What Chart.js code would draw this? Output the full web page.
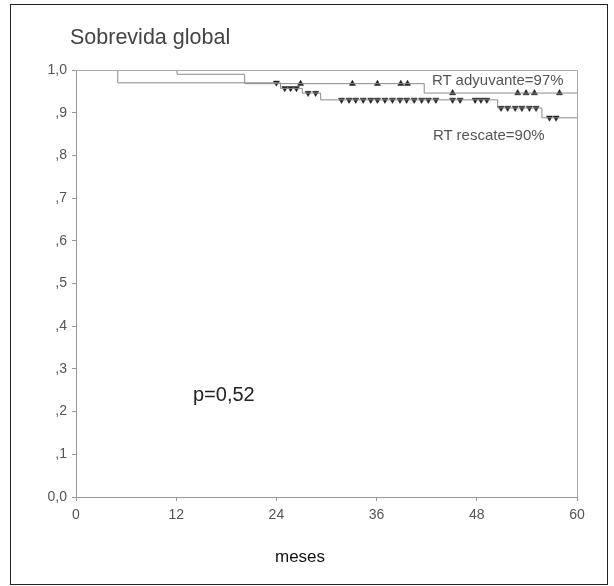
<!DOCTYPE html>
<html>
<head>
<meta charset="utf-8">
<script src="https://cdn.jsdelivr.net/npm/chart.js@4"></script>
<style>
    body { margin: 0; background: #fff; font-family: 'Liberation Sans', Arial, sans-serif; }
    #wrap { position: relative; width: 614px; height: 586px; }
    #frame { position: absolute; left: 10px; top: 4px; width: 596px; height: 579px; border: 1px solid #222; }
    canvas { position: absolute; left: 0; top: 0; }
    .txt { position: absolute; white-space: nowrap; line-height: 1; }
    #title { left: 70px; top: 27px; font-size: 21.5px; color: #444; }
    #xtitle { left: 275px; top: 548px; font-size: 17px; color: #111; }
    #pval { left: 193px; top: 384px; font-size: 20px; color: #222; }
    #lab1 { left: 432px; top: 72px; font-size: 15px; color: #555; }
    #lab2 { left: 433px; top: 127px; font-size: 15px; color: #555; }
</style>
</head>
<body>
<div id="wrap">
    <div id="frame"></div>
    <canvas id="km-chart" width="614" height="586"></canvas>
    <div class="txt" id="title">Sobrevida global</div>
    <div class="txt" id="xtitle">meses</div>
    <div class="txt" id="pval">p=0,52</div>
    <div class="txt" id="lab1">RT adyuvante=97%</div>
    <div class="txt" id="lab2">RT rescate=90%</div>
</div>
<script>
// Kaplan-Meier: overall survival, RT adyuvante vs RT rescate

// RT adyuvante step curve (month of each step, survival after it)
const adyMonths = [0, 12.1, 20.2, 41.7, 60];
const adySurv = [1, 0.990, 0.968, 0.946, 0.946];
// censored cases (up triangles)
const adyCensored = [26.9, 33.1, 36.1, 38.9, 39.7, 45.1, 52.9, 53.9, 54.9, 57.9];

// RT rescate step curve
const resMonths = [0, 5.0, 24.5, 27.1, 29.3, 50.5, 55.8, 60];
const resSurv = [1, 0.970, 0.957, 0.946, 0.930, 0.911, 0.888, 0.888];
// censored cases (down triangles)
const resCensored = [24.0, 25.0, 25.7, 26.4, 27.8, 28.7,
    31.8, 32.7, 33.5, 34.4, 35.3, 36.1, 37.0, 37.9, 38.8, 39.6, 40.5, 41.4, 42.2, 43.1,
    45.1, 46.0, 47.8, 48.5, 49.2,
    50.9, 51.7, 52.6, 53.4, 54.3, 55.1,
    56.7, 57.5];

// axis ticks
const xTickLabels = ['0', '12', '24', '36', '48', '60'];
const yTickLabels = ['0,0', ',1', ',2', ',3', ',4', ',5', ',6', ',7', ',8', ',9', '1,0'];

// survival value of a step curve at month t
function survAt(months, surv, t) {
    let s = surv[0];
    for (let i = 0; i < months.length; i++) {
        if (months[i] <= t) s = surv[i];
    }
    return s;
}

function toPoints(xs, ys) {
    return xs.map((x, i) => ({ x: x, y: ys[i] }));
}

// top and right border of the plot area
const plotFrame = {
    id: 'plotFrame',
    afterDraw(chart) {
        const a = chart.chartArea;
        const ctx = chart.ctx;
        ctx.save();
        ctx.strokeStyle = '#aaa';
        ctx.lineWidth = 1;
        ctx.beginPath();
        ctx.moveTo(a.left, a.top + 0.5);
        ctx.lineTo(a.right + 0.5, a.top + 0.5);
        ctx.lineTo(a.right + 0.5, a.bottom);
        ctx.stroke();
        ctx.restore();
    }
};

document.addEventListener('DOMContentLoaded', function() {
    Chart.defaults.font.family = "'Liberation Sans', Arial, sans-serif";

    const lineColor = '#8a8a8a';
    const markColor = '#1e1e1e';

    const ctx = document.getElementById('km-chart').getContext('2d');
    new Chart(ctx, {
        type: 'line',
        data: {
            datasets: [
                {
                    label: 'RT adyuvante',
                    data: toPoints(adyMonths, adySurv),
                    stepped: 'before',
                    borderColor: lineColor,
                    borderWidth: 1,
                    pointRadius: 0,
                    fill: false
                },
                {
                    label: 'RT rescate',
                    data: toPoints(resMonths, resSurv),
                    stepped: 'before',
                    borderColor: lineColor,
                    borderWidth: 1,
                    pointRadius: 0,
                    fill: false
                },
                {
                    label: 'RT adyuvante censurados',
                    data: adyCensored.map(t => ({ x: t, y: survAt(adyMonths, adySurv, t) })),
                    showLine: false,
                    pointStyle: 'triangle',
                    pointRadius: 3.5,
                    pointBackgroundColor: markColor,
                    pointBorderColor: markColor,
                    pointBorderWidth: 0.5
                },
                {
                    label: 'RT rescate censurados',
                    data: resCensored.map(t => ({ x: t, y: survAt(resMonths, resSurv, t) })),
                    showLine: false,
                    pointStyle: 'triangle',
                    rotation: 180,
                    pointRadius: 3.5,
                    pointBackgroundColor: markColor,
                    pointBorderColor: markColor,
                    pointBorderWidth: 0.5
                }
            ]
        },
        options: {
            responsive: false,
            animation: false,
            devicePixelRatio: 1,
            layout: { padding: { left: 0, top: 70, right: 37, bottom: 0 } },
            plugins: {
                legend: { display: false },
                tooltip: { enabled: false }
            },
            scales: {
                x: {
                    type: 'linear',
                    min: 0,
                    max: 60,
                    afterFit: function(scale) { scale.height = 89; },
                    border: { display: true, color: '#999', width: 1 },
                    grid: { drawOnChartArea: false, drawTicks: true, tickLength: 4, color: '#999' },
                    ticks: {
                        stepSize: 12,
                        padding: 6,
                        color: '#555',
                        font: { size: 14 },
                        maxRotation: 0,
                        callback: function(value, index) { return xTickLabels[index]; }
                    }
                },
                y: {
                    type: 'linear',
                    min: 0,
                    max: 1,
                    afterFit: function(scale) { scale.width = 76; },
                    border: { display: true, color: '#999', width: 1 },
                    grid: { drawOnChartArea: false, drawTicks: true, tickLength: 4, color: '#999' },
                    ticks: {
                        stepSize: 0.1,
                        padding: 5,
                        color: '#555',
                        font: { size: 14 },
                        callback: function(value, index) { return yTickLabels[index]; }
                    }
                }
            }
        },
        plugins: [plotFrame]
    });
});
</script>
</body>
</html>
